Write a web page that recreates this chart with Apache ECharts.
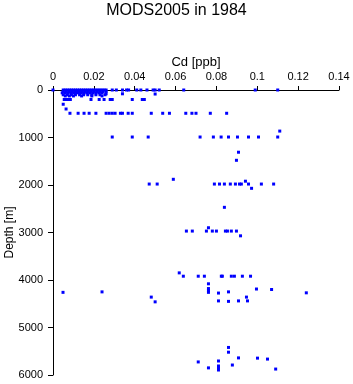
<!DOCTYPE html>
<html>
<head>
<meta charset="utf-8">
<script src="https://cdn.jsdelivr.net/npm/echarts@6/dist/echarts.min.js"></script>
<style>
  html, body { margin: 0; padding: 0; background: #fff; }
  #chart { width: 353px; height: 384px; }
</style>
</head>
<body>
<div id="chart"></div>
<script>
// 数据: [Cd (ppb), Depth (m)]
var cdTicks = [0, 0.02, 0.04, 0.06, 0.08, 0.1, 0.12, 0.14];
var depthTicks = [0, 1000, 2000, 3000, 4000, 5000, 6000];

// 表层 0 - 150 m
var surfacePts = [
    [0.0, 0], [0.005, 0], [0.006, 0], [0.007, 0], [0.008, 0], [0.009, 0], [0.010, 0],
    [0.011, 0], [0.012, 0], [0.013, 0], [0.014, 0], [0.015, 0], [0.016, 0], [0.017, 0],
    [0.018, 0], [0.019, 0], [0.020, 0], [0.021, 0], [0.022, 0], [0.023, 0], [0.024, 0],
    [0.025, 0], [0.026, 0], [0.029, 0], [0.031, 0], [0.034, 0], [0.036, 0], [0.037, 0],
    [0.041, 0], [0.043, 0], [0.046, 0], [0.049, 0], [0.050, 0], [0.052, 0], [0.064, 0],
    [0.099, 0], [0.110, 0],
    [0.005, 30], [0.0065, 30], [0.008, 30], [0.0095, 30], [0.011, 30], [0.0125, 30],
    [0.014, 30], [0.0155, 30], [0.017, 30], [0.0185, 30], [0.020, 30], [0.0215, 30],
    [0.023, 30], [0.0245, 30], [0.026, 30],
    [0.0045, 60], [0.006, 60], [0.0075, 60], [0.009, 60], [0.0105, 60], [0.012, 60],
    [0.0135, 60], [0.015, 60], [0.0165, 60], [0.018, 60], [0.0195, 60], [0.021, 60],
    [0.0225, 60], [0.024, 60], [0.026, 80], [0.034, 80], [0.050, 85],
    [0.005, 100], [0.007, 100], [0.009, 100], [0.011, 100], [0.013, 100], [0.015, 100],
    [0.017, 100], [0.019, 100], [0.021, 100], [0.023, 100], [0.0255, 100],
    [0.006, 125], [0.008, 125], [0.010, 125], [0.014, 125], [0.019, 125], [0.024, 125]
];

// 200 - 1500 m
var upperPts = [
    [0.0055, 200], [0.0065, 200], [0.0075, 200], [0.0085, 200], [0.0186, 200],
    [0.0226, 200], [0.025, 200], [0.028, 200], [0.029, 200], [0.0388, 200],
    [0.0437, 200], [0.0447, 200],
    [0.005, 300], [0.0064, 400],
    [0.0083, 490], [0.0123, 490], [0.0152, 490], [0.0177, 490], [0.021, 490],
    [0.026, 490], [0.0275, 490], [0.029, 490], [0.0304, 490], [0.033, 490],
    [0.034, 490], [0.0368, 490], [0.0388, 490], [0.0481, 490], [0.0537, 490],
    [0.057, 490], [0.065, 490], [0.068, 490], [0.070, 490], [0.077, 490], [0.085, 490],
    [0.111, 865],
    [0.029, 990], [0.0388, 990], [0.0466, 990], [0.072, 990], [0.0785, 990],
    [0.0823, 990], [0.0859, 990], [0.0903, 990], [0.0957, 990], [0.1006, 990],
    [0.110, 990],
    [0.0908, 1310], [0.0898, 1480]
];

// 1800 - 3100 m
var midPts = [
    [0.0589, 1880], [0.0942, 1920],
    [0.0471, 1980], [0.051, 1980], [0.079, 1980], [0.0815, 1980], [0.0839, 1980],
    [0.0868, 1980], [0.0893, 1980], [0.0913, 1980], [0.0922, 1980], [0.0957, 1980],
    [0.102, 1980], [0.108, 1980], [0.0972, 2070],
    [0.0839, 2470],
    [0.0761, 2900],
    [0.0653, 2970], [0.0682, 2970], [0.0751, 2970], [0.078, 2970], [0.080, 2970],
    [0.0844, 2970], [0.0854, 2970], [0.0873, 2970], [0.0898, 2970],
    [0.0918, 3070]
];

// 3800 m 以下
var deepPts = [
    [0.0618, 3850],
    [0.0638, 3920], [0.0711, 3920], [0.0741, 3920], [0.0824, 3920], [0.0829, 3920],
    [0.0873, 3920], [0.0888, 3920], [0.0927, 3920], [0.0967, 3920],
    [0.0761, 4080], [0.0761, 4180], [0.0996, 4190], [0.107, 4200], [0.0761, 4220],
    [0.0761, 4260], [0.0049, 4260], [0.024, 4250], [0.0859, 4250], [0.124, 4270],
    [0.081, 4275],
    [0.0481, 4360], [0.0947, 4360],
    [0.050, 4460], [0.081, 4440], [0.0859, 4450], [0.0908, 4440], [0.0952, 4440],
    [0.0859, 5420], [0.0859, 5520], [0.0908, 5640], [0.1001, 5645], [0.105, 5665],
    [0.081, 5705], [0.0711, 5725], [0.0878, 5790], [0.081, 5810], [0.0761, 5850],
    [0.081, 5850], [0.109, 5875], [0.081, 5895]
];

var allPts = surfacePts.concat(upperPts, midPts, deepPts);

var FONT = 'Liberation Sans';

var chart = echarts.init(document.getElementById('chart'));

chart.setOption({
    animation: false,
    backgroundColor: '#fff',
    title: {
        text: 'MODS2005 in 1984',
        left: 'center',
        top: -2,
        textStyle: {
            fontFamily: FONT,
            fontSize: 16,
            fontWeight: 'normal',
            color: '#000'
        }
    },
    grid: {
        left: 53,
        top: 90,
        width: 286,
        height: 285,
        containLabel: false,
        outerBoundsMode: 'none'
    },
    xAxis: {
        type: 'value',
        position: 'top',
        min: 0,
        max: 0.14,
        interval: 0.02,
        name: 'Cd [ppb]',
        nameLocation: 'middle',
        nameGap: 21,
        nameMoveOverlap: false,
        nameTextStyle: { fontFamily: FONT, fontSize: 13, color: '#000' },
        axisLine: { show: true, onZero: false, lineStyle: { color: '#000', width: 1 } },
        axisTick: { show: true, length: 4, lineStyle: { color: '#000' } },
        axisLabel: {
            fontFamily: FONT,
            fontSize: 11,
            color: '#000',
            margin: 8,
            formatter: function(v) {
                return cdTicks.indexOf(+v.toFixed(2)) >= 0 ? String(+v.toFixed(2)) : '';
            }
        },
        splitLine: { show: false }
    },
    yAxis: {
        type: 'value',
        inverse: true,
        min: 0,
        max: 6000,
        interval: 1000,
        name: 'Depth [m]',
        nameLocation: 'middle',
        nameGap: 37,
        nameMoveOverlap: false,
        nameTextStyle: { fontFamily: FONT, fontSize: 12, color: '#000' },
        axisLine: { show: true, onZero: false, lineStyle: { color: '#000', width: 1 } },
        axisTick: { show: true, length: 5, lineStyle: { color: '#000' } },
        axisLabel: {
            fontFamily: FONT,
            fontSize: 11,
            color: '#000',
            margin: 10,
            formatter: function(v) {
                return depthTicks.indexOf(v) >= 0 ? String(v) : '';
            }
        },
        splitLine: { show: false }
    },
    series: [{
        type: 'scatter',
        symbol: 'rect',
        symbolSize: 3,
        itemStyle: { color: '#0000ff', opacity: 1 },
        data: allPts
    }]
});
</script>
</body>
</html>
